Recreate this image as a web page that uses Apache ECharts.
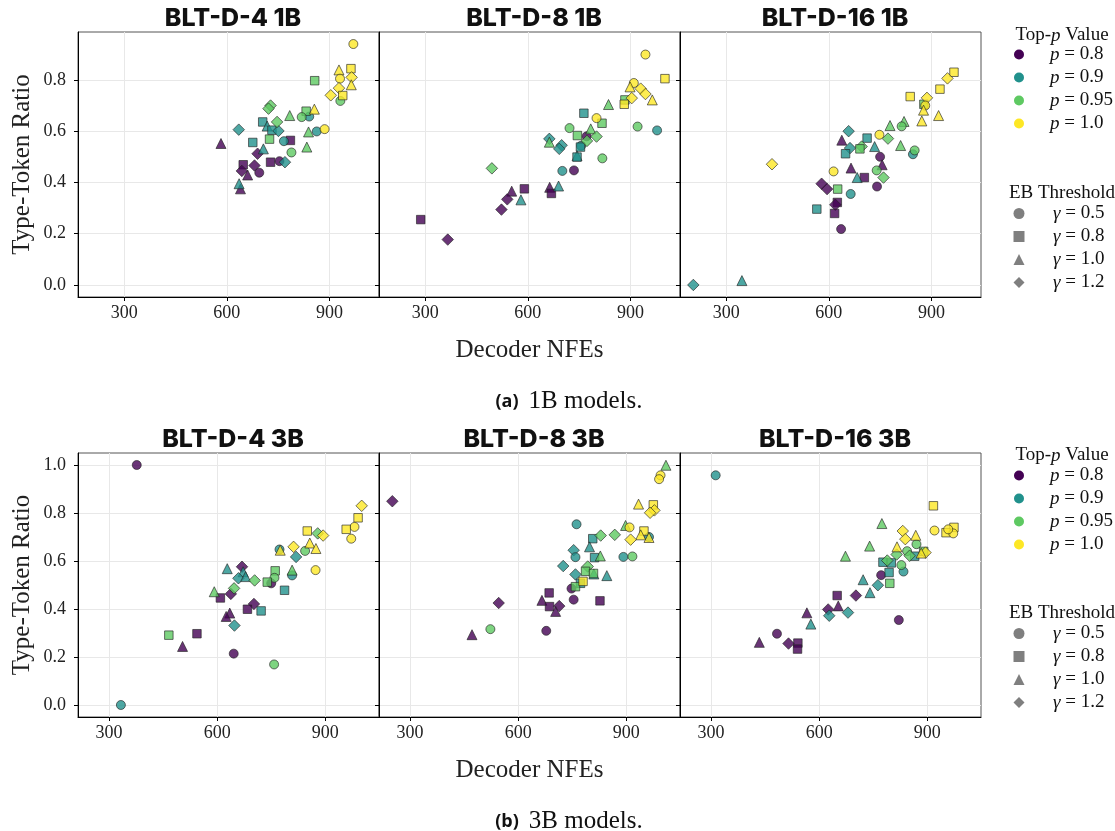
<!DOCTYPE html>
<html>
<head>
<meta charset="utf-8">
<script src="https://cdn.jsdelivr.net/npm/echarts@6/dist/echarts.min.js"></script>
<style>
  html, body { margin: 0; padding: 0; background: #fff; }
  #chart { width: 1115px; height: 831px; }
</style>
</head>
<body>
<div id="chart"></div>
<script>
// each point: [decoder NFEs, type-token ratio, top-p, EB threshold gamma]
const blt4_1b = [
  [970, 0.940, 1.0, 0.5], [928, 0.839, 1.0, 1.0], [963, 0.844, 1.0, 0.8], [931, 0.805, 1.0, 0.5],
  [965, 0.810, 1.0, 1.2], [964, 0.781, 1.0, 1.0], [928, 0.768, 1.0, 1.2], [904, 0.740, 1.0, 1.2],
  [939, 0.739, 1.0, 0.8], [856, 0.686, 1.0, 1.0], [886, 0.608, 1.0, 0.5],
  [932, 0.718, 0.95, 0.5], [857, 0.797, 0.95, 0.8], [832, 0.678, 0.95, 0.8], [819, 0.655, 0.95, 0.5],
  [784, 0.661, 0.95, 1.0], [728, 0.700, 0.95, 1.2], [722, 0.688, 0.95, 1.2], [747, 0.636, 0.95, 1.2],
  [725, 0.569, 0.95, 0.8], [839, 0.597, 0.95, 1.0], [834, 0.538, 0.95, 1.0], [789, 0.517, 0.95, 0.5],
  [841, 0.657, 0.9, 0.5], [863, 0.599, 0.9, 0.5], [635, 0.606, 0.9, 1.2], [705, 0.636, 0.9, 0.8],
  [718, 0.620, 0.9, 1.0], [732, 0.604, 0.9, 0.8], [751, 0.601, 0.9, 1.2], [676, 0.556, 0.9, 0.8],
  [707, 0.531, 0.9, 1.0], [767, 0.561, 0.9, 0.5], [770, 0.479, 0.9, 1.2], [636, 0.395, 0.9, 1.0],
  [583, 0.552, 0.8, 1.0], [786, 0.564, 0.8, 0.8], [690, 0.512, 0.8, 1.2], [728, 0.479, 0.8, 0.8],
  [754, 0.483, 0.8, 0.5], [681, 0.466, 0.8, 1.2], [648, 0.469, 0.8, 0.8], [644, 0.445, 0.8, 1.2],
  [661, 0.429, 0.8, 1.0], [695, 0.438, 0.8, 0.5], [640, 0.375, 0.8, 1.0]
];
const blt8_1b = [
  [944, 0.899, 1.0, 0.5], [1001, 0.805, 1.0, 0.8], [910, 0.788, 1.0, 0.5], [899, 0.773, 1.0, 1.0],
  [930, 0.766, 1.0, 1.2], [944, 0.745, 1.0, 1.2], [964, 0.722, 1.0, 1.0], [904, 0.729, 1.0, 1.2],
  [882, 0.705, 1.0, 0.8], [801, 0.651, 1.0, 0.5],
  [884, 0.722, 0.95, 0.8], [836, 0.704, 0.95, 1.0], [921, 0.618, 0.95, 0.5], [817, 0.631, 0.95, 0.8],
  [784, 0.609, 0.95, 1.0], [722, 0.612, 0.95, 0.5], [745, 0.583, 0.95, 0.8], [801, 0.579, 0.95, 1.2],
  [773, 0.562, 0.95, 1.2], [663, 0.557, 0.95, 1.0], [818, 0.494, 0.95, 0.5], [495, 0.455, 0.95, 1.2],
  [978, 0.603, 0.9, 0.5], [764, 0.670, 0.9, 0.8], [663, 0.570, 0.9, 1.2], [699, 0.545, 0.9, 1.2],
  [692, 0.531, 0.9, 1.2], [756, 0.543, 0.9, 0.5], [754, 0.538, 0.9, 0.8], [744, 0.504, 0.9, 1.0],
  [744, 0.499, 0.9, 0.8], [701, 0.445, 0.9, 0.5], [690, 0.386, 0.9, 1.0], [580, 0.332, 0.9, 1.0],
  [772, 0.580, 0.8, 0.5], [735, 0.447, 0.8, 0.5], [664, 0.381, 0.8, 1.0], [669, 0.357, 0.8, 0.8],
  [590, 0.375, 0.8, 0.8], [553, 0.366, 0.8, 1.0], [540, 0.334, 0.8, 1.2], [523, 0.294, 0.8, 1.2],
  [366, 0.177, 0.8, 1.2], [287, 0.255, 0.8, 0.8]
];
const blt16_1b = [
  [966, 0.830, 1.0, 0.8], [947, 0.806, 1.0, 1.2], [925, 0.764, 1.0, 0.8], [838, 0.735, 1.0, 0.8],
  [887, 0.730, 1.0, 1.2], [882, 0.700, 1.0, 0.5], [877, 0.682, 1.0, 1.0], [872, 0.640, 1.0, 1.0],
  [921, 0.661, 1.0, 1.0], [748, 0.586, 1.0, 0.5], [614, 0.443, 1.0, 0.5], [434, 0.471, 1.0, 1.2],
  [878, 0.705, 0.95, 0.8], [820, 0.638, 0.95, 1.0], [779, 0.622, 0.95, 1.0], [813, 0.619, 0.95, 0.5],
  [773, 0.571, 0.95, 1.2], [810, 0.544, 0.95, 1.0], [696, 0.540, 0.95, 1.2], [691, 0.531, 0.95, 0.8],
  [851, 0.525, 0.95, 0.5], [740, 0.447, 0.95, 0.5], [760, 0.419, 0.95, 1.2], [626, 0.374, 0.95, 0.8],
  [658, 0.600, 0.9, 1.2], [712, 0.573, 0.9, 0.8], [662, 0.534, 0.9, 1.2], [649, 0.512, 0.9, 0.8],
  [734, 0.540, 0.9, 1.0], [846, 0.510, 0.9, 0.5], [683, 0.419, 0.9, 1.0], [664, 0.355, 0.9, 0.5],
  [565, 0.296, 0.9, 0.8], [346, 0.017, 0.9, 1.0], [204, 0.000, 0.9, 1.2],
  [638, 0.565, 0.8, 1.0], [750, 0.500, 0.8, 0.5], [665, 0.456, 0.8, 1.0], [756, 0.469, 0.8, 1.0],
  [704, 0.419, 0.8, 0.8], [741, 0.384, 0.8, 0.5], [579, 0.395, 0.8, 1.2], [595, 0.374, 0.8, 1.2],
  [625, 0.322, 0.8, 0.8], [619, 0.313, 0.8, 1.2], [617, 0.279, 0.8, 0.8], [636, 0.218, 0.8, 0.5]
];
const blt4_3b = [
  [1001, 0.830, 1.0, 1.2], [991, 0.780, 1.0, 0.8], [981, 0.742, 1.0, 0.5], [958, 0.732, 1.0, 0.8],
  [972, 0.693, 1.0, 0.5], [894, 0.706, 1.0, 1.2], [850, 0.725, 1.0, 0.8], [857, 0.675, 1.0, 1.0],
  [874, 0.652, 1.0, 1.0], [812, 0.659, 1.0, 1.2], [775, 0.645, 1.0, 1.0], [873, 0.562, 1.0, 0.5],
  [879, 0.715, 0.95, 1.2], [844, 0.642, 0.95, 0.5], [761, 0.559, 0.95, 0.8], [759, 0.530, 0.95, 0.5],
  [739, 0.512, 0.95, 0.8], [704, 0.519, 0.95, 1.2], [647, 0.486, 0.95, 1.2], [592, 0.472, 0.95, 1.0],
  [808, 0.562, 0.95, 1.0], [466, 0.291, 0.95, 0.8], [758, 0.169, 0.95, 0.5],
  [773, 0.648, 0.9, 0.5], [819, 0.617, 0.9, 1.2], [628, 0.568, 0.9, 1.0], [672, 0.555, 0.9, 1.0],
  [659, 0.528, 0.9, 1.2], [679, 0.535, 0.9, 1.0], [808, 0.540, 0.9, 0.5], [787, 0.478, 0.9, 0.8],
  [722, 0.392, 0.9, 0.8], [648, 0.331, 0.9, 1.2], [333, 0.000, 0.9, 0.5],
  [377, 1.000, 0.8, 0.5], [669, 0.576, 0.8, 1.2], [750, 0.507, 0.8, 0.5], [609, 0.446, 0.8, 0.8],
  [638, 0.463, 0.8, 1.2], [702, 0.421, 0.8, 1.2], [684, 0.399, 0.8, 0.8], [635, 0.383, 0.8, 1.0],
  [625, 0.369, 0.8, 1.0], [544, 0.297, 0.8, 0.8], [504, 0.244, 0.8, 1.0], [646, 0.214, 0.8, 0.5]
];
const blt8_3b = [
  [995, 0.957, 1.0, 0.5], [991, 0.941, 1.0, 0.5], [934, 0.837, 1.0, 1.0], [975, 0.834, 1.0, 0.8],
  [978, 0.811, 1.0, 1.2], [966, 0.801, 1.0, 1.2], [909, 0.740, 1.0, 0.5], [949, 0.725, 1.0, 0.8],
  [940, 0.709, 1.0, 1.0], [963, 0.698, 1.0, 1.0], [912, 0.689, 1.0, 1.2], [780, 0.515, 1.0, 0.8],
  [1010, 0.999, 0.95, 1.0], [898, 0.748, 0.95, 1.0], [829, 0.706, 0.95, 1.2], [868, 0.709, 0.95, 1.2],
  [828, 0.621, 0.95, 1.0], [917, 0.619, 0.95, 0.5], [793, 0.577, 0.95, 1.2], [787, 0.557, 0.95, 0.8],
  [809, 0.548, 0.95, 0.8], [759, 0.493, 0.95, 0.8], [523, 0.316, 0.95, 0.5],
  [762, 0.753, 0.9, 0.5], [807, 0.693, 0.9, 0.8], [754, 0.645, 0.9, 1.2], [798, 0.659, 0.9, 1.0],
  [759, 0.616, 0.9, 0.5], [812, 0.614, 0.9, 0.8], [892, 0.617, 0.9, 0.5], [725, 0.579, 0.9, 1.2],
  [759, 0.544, 0.9, 1.2], [846, 0.539, 0.9, 1.0], [810, 0.546, 0.9, 1.0], [773, 0.507, 0.9, 0.8],
  [963, 0.700, 0.9, 0.5],
  [251, 0.849, 0.8, 1.2], [546, 0.425, 0.8, 1.2], [472, 0.293, 0.8, 1.0], [678, 0.309, 0.8, 0.5],
  [686, 0.467, 0.8, 0.8], [666, 0.436, 0.8, 1.0], [687, 0.410, 0.8, 0.8], [714, 0.412, 0.8, 1.2],
  [704, 0.390, 0.8, 1.0], [748, 0.485, 0.8, 0.5], [754, 0.439, 0.8, 0.5], [827, 0.434, 0.8, 0.8]
];
const blt16_3b = [
  [917, 0.830, 1.0, 0.8], [974, 0.740, 1.0, 0.8], [952, 0.718, 1.0, 0.8], [972, 0.715, 1.0, 0.5],
  [958, 0.732, 1.0, 0.5], [920, 0.727, 1.0, 0.5], [832, 0.725, 1.0, 1.2], [839, 0.691, 1.0, 1.2],
  [868, 0.707, 1.0, 1.0], [816, 0.659, 1.0, 1.0], [895, 0.635, 1.0, 1.2], [883, 0.633, 1.0, 1.0],
  [774, 0.756, 0.95, 1.0], [740, 0.662, 0.95, 1.0], [673, 0.620, 0.95, 1.0], [870, 0.670, 0.95, 0.5],
  [844, 0.641, 0.95, 0.5], [815, 0.627, 0.95, 1.2], [851, 0.622, 0.95, 1.2], [789, 0.602, 0.95, 1.2],
  [828, 0.583, 0.95, 0.5], [796, 0.507, 0.95, 0.8], [890, 0.640, 0.95, 0.8],
  [313, 0.957, 0.9, 0.5], [777, 0.595, 0.9, 0.8], [800, 0.592, 0.9, 0.8], [794, 0.552, 0.9, 0.8],
  [834, 0.556, 0.9, 0.5], [722, 0.522, 0.9, 1.0], [763, 0.499, 0.9, 1.2], [741, 0.468, 0.9, 1.0],
  [680, 0.385, 0.9, 1.2], [628, 0.372, 0.9, 1.2], [577, 0.337, 0.9, 1.0], [865, 0.620, 0.9, 0.8],
  [772, 0.541, 0.8, 0.5], [821, 0.354, 0.8, 0.5], [650, 0.456, 0.8, 0.8], [702, 0.456, 0.8, 1.2],
  [653, 0.413, 0.8, 1.0], [625, 0.398, 0.8, 1.2], [566, 0.384, 0.8, 1.0], [483, 0.297, 0.8, 0.5],
  [434, 0.261, 0.8, 1.0], [515, 0.256, 0.8, 1.2], [541, 0.258, 0.8, 0.8], [540, 0.233, 0.8, 0.8]
];

const topPValues = [0.8, 0.9, 0.95, 1.0];
const gammaValues = [0.5, 0.8, 1.0, 1.2];
const panelTitles = ['BLT-D-4 1B', 'BLT-D-8 1B', 'BLT-D-16 1B', 'BLT-D-4 3B', 'BLT-D-8 3B', 'BLT-D-16 3B'];
const panelData = [blt4_1b, blt8_1b, blt16_1b, blt4_3b, blt8_3b, blt16_3b];
const xTicks = [300, 600, 900];
const yTicksTop = [0, 0.2, 0.4, 0.6, 0.8];
const yTicksBottom = [0, 0.2, 0.4, 0.6, 0.8, 1.0];

const colors = ['#440154', '#21918c', '#5ec962', '#fde725'];
const symbols = ['circle', 'rect', 'triangle', 'diamond'];
const symbolSizes = [9, 8.5, 10, 11.5];
const SERIF = '"Liberation Serif", "DejaVu Serif", serif';
const SANS = 'Inter, "Open Sans", sans-serif';

const chart = echarts.init(document.getElementById('chart'));

const colLeft = [78, 379, 680];
const rowTop = [32, 453];
const rowHeight = [265, 264];
const grids = [], xAxes = [], yAxes = [], titles = [], series = [];

for (let i = 0; i < 6; i++) {
  const row = Math.floor(i / 3), col = i % 3;
  grids.push({
    left: colLeft[col], top: rowTop[row], width: 301, height: rowHeight[row],
    show: true, borderColor: '#555', borderWidth: 1
  });
  xAxes.push({
    type: 'value', gridIndex: i,
    min: row === 0 ? 165 : 214, max: row === 0 ? 1045 : 1049,
    name: col === 1 ? 'Decoder NFEs' : '', nameLocation: 'middle', nameGap: 41,
    nameTextStyle: { fontFamily: SERIF, fontSize: 25, color: '#222' },
    axisLine: { onZero: false, lineStyle: { color: '#000', width: 1 } },
    axisTick: { show: true, length: 4, customValues: xTicks, lineStyle: { color: '#000' } },
    axisLabel: { customValues: xTicks, fontFamily: SERIF, fontSize: 18, color: '#222', margin: 7 },
    splitLine: { show: true, lineStyle: { color: '#e8e8e8', width: 1 } }
  });
  const yt = row === 0 ? yTicksTop : yTicksBottom;
  yAxes.push({
    type: 'value', gridIndex: i,
    min: row === 0 ? -0.047 : -0.05, max: row === 0 ? 0.987 : 1.05,
    name: col === 0 ? 'Type-Token Ratio' : '', nameLocation: 'middle', nameGap: 43,
    nameTextStyle: { fontFamily: SERIF, fontSize: 25, color: '#222' },
    axisLine: { show: true, onZero: false, lineStyle: { color: '#000', width: 1 } },
    axisTick: { show: true, length: 4, customValues: yt, lineStyle: { color: '#000' } },
    axisLabel: {
      show: col === 0, customValues: yt, fontFamily: SERIF, fontSize: 18, color: '#222', margin: 12,
      formatter: v => v.toFixed(1)
    },
    splitLine: { show: true, lineStyle: { color: '#e8e8e8', width: 1 } }
  });
  titles.push({
    text: panelTitles[i], left: colLeft[col] + 150, top: row === 0 ? 1 : 422, textAlign: 'center',
    textStyle: { fontFamily: SANS, fontWeight: 800, fontSize: 25, color: '#111' }
  });
  topPValues.forEach((p, pi) => {
    series.push({
      type: 'scatter', name: 'panel' + i + '-p' + p, xAxisIndex: i, yAxisIndex: i,
      itemStyle: { color: colors[pi], opacity: 0.8, borderColor: '#222', borderWidth: 0.8 },
      emphasis: { disabled: true },
      data: panelData[i].filter(d => d[2] === p).map(d => {
        const gi = gammaValues.indexOf(d[3]);
        return { value: [d[0], d[1]], symbol: symbols[gi], symbolSize: symbolSizes[gi] };
      })
    });
  });
}

// legend entries (empty series used only for the legends)
const pNames = topPValues.map(p => 'p = ' + (p === 1 ? '1.0' : String(p)));
const gNames = gammaValues.map(g => 'γ = ' + g.toFixed(1));
pNames.forEach((n, k) => series.push({
  type: 'scatter', name: n, xAxisIndex: 0, yAxisIndex: 0, data: [], symbol: 'circle',
  itemStyle: { color: colors[k], opacity: 1, borderWidth: 0 }
}));
gNames.forEach((n, k) => series.push({
  type: 'scatter', name: n, xAxisIndex: 0, yAxisIndex: 0, data: [], symbol: symbols[k],
  itemStyle: { color: '#7f7f7f', opacity: 1, borderWidth: 0 }
}));

function mkLegend(names, top, iconSize, textX) {
  const gap = textX - 1019 - iconSize / 2 - 5;
  return {
    data: names, orient: 'vertical', left: 1019 - iconSize / 2, top: top, padding: 0,
    itemWidth: iconSize, itemHeight: iconSize, itemGap: 4, selectedMode: false,
    formatter: n => { const [a, b] = n.split(' = '); return '{g|}{i|' + a + '}{n| = ' + b + '}'; },
    textStyle: {
      rich: {
        g: { width: gap },
        i: { fontFamily: SERIF, fontStyle: 'italic', fontWeight: 'normal', fontSize: 19, color: '#111', lineHeight: 22 },
        n: { fontFamily: SERIF, fontWeight: 'normal', fontSize: 19, color: '#111', lineHeight: 22 }
      }
    }
  };
}
const legends = [
  mkLegend(pNames, 45, 10, 1050), mkLegend(gNames, 204, 11, 1053),
  mkLegend(pNames, 466, 10, 1050), mkLegend(gNames, 624, 11, 1053)
];

const headRich = {
  r: { fontFamily: SERIF, fontWeight: 'normal', fontSize: 19, color: '#111' },
  i: { fontFamily: SERIF, fontWeight: 'normal', fontSize: 19, fontStyle: 'italic', color: '#111' }
};
[[21, '{r|Top-}{i|p}{r| Value}'], [179, '{r|EB Threshold}'], [441, '{r|Top-}{i|p}{r| Value}'], [599, '{r|EB Threshold}']]
  .forEach(([top, txt]) => titles.push({
    text: txt, left: 1057, top: top, textAlign: 'center',
    textStyle: { fontWeight: 'normal', rich: headRich }
  }));

const capRich = {
  b: { fontFamily: '"Open Sans", sans-serif', fontWeight: 'bold', fontSize: 18, color: '#111' },
  s: { fontFamily: SERIF, fontWeight: 'normal', fontSize: 25, color: '#111' }
};
titles.push({ text: '{b|(a)}  {s|1B models.}', left: 564, top: 384, textAlign: 'center', textStyle: { fontWeight: 'normal', rich: capRich } });
titles.push({ text: '{b|(b)}  {s|3B models.}', left: 564, top: 804, textAlign: 'center', textStyle: { fontWeight: 'normal', rich: capRich } });

chart.setOption({
  animation: false,
  title: titles,
  legend: legends,
  grid: grids,
  xAxis: xAxes,
  yAxis: yAxes,
  series: series
});
</script>
</body>
</html>
